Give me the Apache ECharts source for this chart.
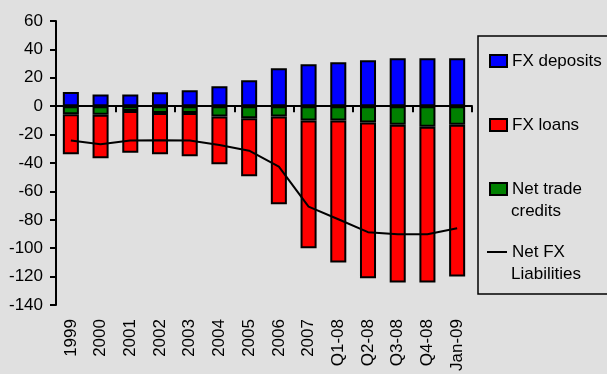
<!DOCTYPE html>
<html>
<head>
<meta charset="utf-8">
<script src="https://cdn.jsdelivr.net/npm/echarts@6/dist/echarts.min.js"></script>
<style>
html, body { margin: 0; padding: 0; background: #e0e0e0; }
#main { width: 607px; height: 374px; }
</style>
</head>
<body>
<div id="main"></div>
<script>
// periods on the x axis
var categories = ['1999', '2000', '2001', '2002', '2003', '2004', '2005', '2006', '2007',
    'Q1-08', 'Q2-08', 'Q3-08', 'Q4-08', 'Jan-09'];
var fxDeposits = [10, 8.2, 8.2, 9.9, 11.3, 14.1, 18.3, 26.8, 29.6, 31, 32.4, 33.8, 33.8, 33.8];
var tradeCredits = [-5.6, -6.1, -3.3, -4.7, -4.7, -7.3, -8.5, -7.3, -10.1, -10.1, -11.5, -13, -14.4, -13];
var fxLoans = [-28.2, -30.5, -29.4, -29.1, -30.5, -33.5, -40.8, -61.7, -89.9, -100, -109.6, -111.2, -109.8, -107];
var netFx = [-24.2, -26.8, -24.2, -24, -24.2, -27.3, -31.3, -42.5, -70.7, -79.6, -88.7, -90.1, -90.1, -85.9];
var yTicks = [-140, 60, 20]; // min, max, interval

var font = 'Liberation Sans, Arial, sans-serif';
var chart = echarts.init(document.getElementById('main'));

// one legend per item so the spacing can follow the original
function legendAt(name, top, lineIcon) {
    return {
        data: [{ name: name, icon: 'rect' }],
        orient: 'vertical',
        left: lineIcon ? 487 : 489,
        top: top,
        padding: 0,
        itemWidth: lineIcon ? 20 : 17,
        itemHeight: lineIcon ? 2 : 12,
        selectedMode: false,
        textStyle: { fontFamily: font, fontSize: 17, color: '#000', lineHeight: 22 },
        formatter: function (n) {
            if (n === 'Net trade credits') return 'Net trade';
            if (n === 'Net FX Liabilities') return 'Net FX';
            return n;
        }
    };
}

function secondLine(txt, y) {
    return {
        type: 'text',
        left: 511,
        top: y - 11,
        style: { text: txt, fontFamily: font, fontSize: 17, fill: '#000', lineHeight: 22 }
    };
}

var option = {
    backgroundColor: '#e0e0e0',
    animation: false,
    grid: { left: 56, right: 135, top: 21, bottom: 68 },
    legend: [
        legendAt('FX deposits', 50),
        legendAt('FX loans', 114),
        legendAt('Net trade credits', 178),
        legendAt('Net FX Liabilities', 241, true)
    ],
    graphic: [{
        type: 'polyline',
        shape: { points: [[650, 36], [478, 36], [478, 294], [650, 294]] },
        style: { fill: 'none', stroke: '#000', lineWidth: 1.5 },
        z: -1
    },
    secondLine('credits', 211),
    secondLine('Liabilities', 274)],
    xAxis: [{
        type: 'category',
        data: categories,
        position: 'bottom',
        axisLine: { show: false, onZero: false },
        axisTick: { show: false },
        axisLabel: {
            rotate: 90,
            interval: 0,
            margin: 14,
            fontFamily: font,
            fontSize: 17,
            color: '#000'
        }
    }, {
        type: 'category',
        data: categories,
        position: 'bottom',
        axisLine: { show: true, onZero: true, lineStyle: { color: '#000', width: 2 } },
        axisTick: { show: true, length: 6, inside: false, lineStyle: { color: '#000', width: 2 } },
        axisLabel: { show: false }
    }],
    yAxis: {
        type: 'value',
        min: yTicks[0],
        max: yTicks[1],
        interval: yTicks[2],
        axisLine: { show: true, lineStyle: { color: '#000', width: 2 } },
        axisTick: { show: true, length: 6, lineStyle: { color: '#000', width: 2 } },
        splitLine: { show: false },
        axisLabel: {
            margin: 13,
            fontFamily: font,
            fontSize: 17,
            color: '#000'
        }
    },
    series: [{
        name: 'FX deposits',
        type: 'bar',
        stack: 'fx',
        data: fxDeposits,
        barWidth: '54%',
        itemStyle: { color: '#0000ff', borderColor: '#000', borderWidth: 2 }
    }, {
        name: 'Net trade credits',
        type: 'bar',
        stack: 'fx',
        data: tradeCredits,
        itemStyle: { color: '#008000', borderColor: '#000', borderWidth: 2 }
    }, {
        name: 'FX loans',
        type: 'bar',
        stack: 'fx',
        data: fxLoans,
        itemStyle: { color: '#ff0000', borderColor: '#000', borderWidth: 2 }
    }, {
        name: 'Net FX Liabilities',
        type: 'line',
        data: netFx,
        symbol: 'none',
        z: 5,
        lineStyle: { color: '#000', width: 2 },
        itemStyle: { color: '#000', borderWidth: 0 }
    }]
};
chart.setOption(option);
</script>
</body>
</html>
